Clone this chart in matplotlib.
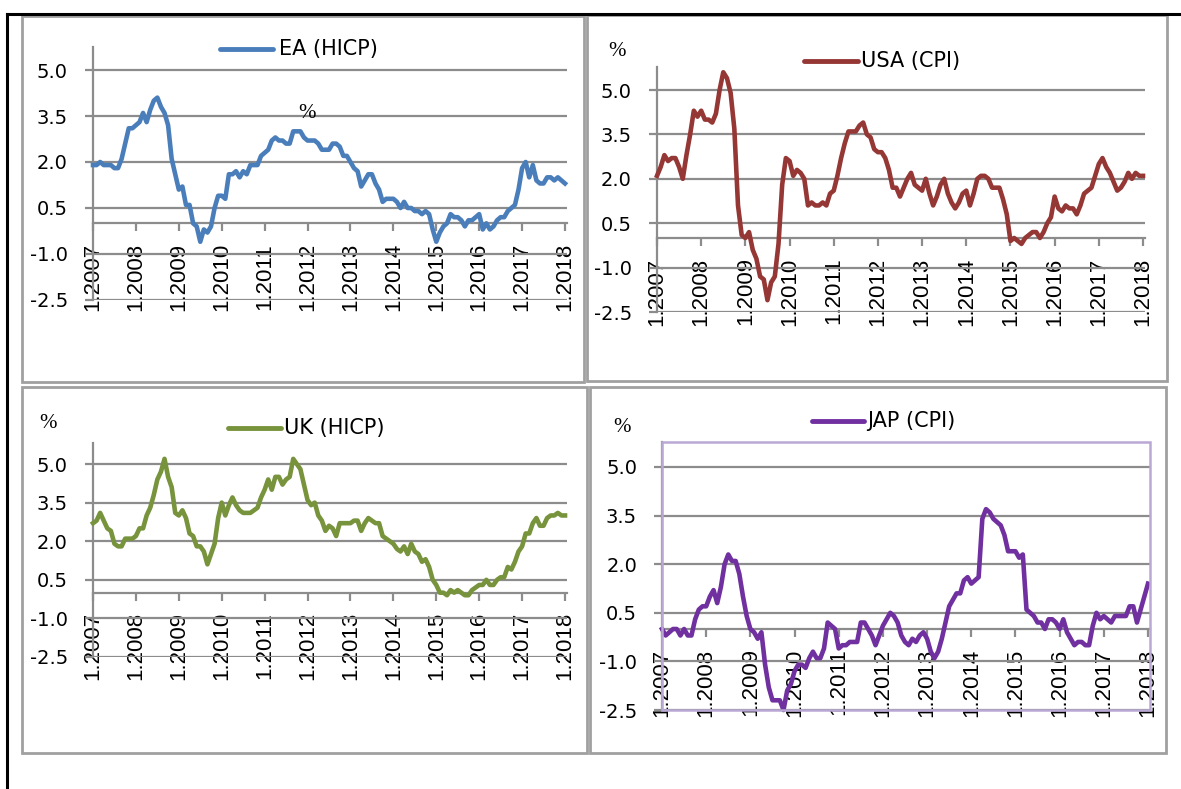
import matplotlib
matplotlib.use("Agg")
import matplotlib.pyplot as plt
from matplotlib.lines import Line2D
from matplotlib.patches import Rectangle

W, H = 1181, 789

tick_labels = ["1.2007", "1.2008", "1.2009", "1.2010", "1.2011", "1.2012",
               "1.2013", "1.2014", "1.2015", "1.2016", "1.2017", "1.2018"]
y_ticks = [-2.5, -1.0, 0.5, 2.0, 3.5, 5.0]

ea = [1.9, 1.9, 2.0, 1.9, 1.9, 1.9, 1.8, 1.8, 2.1, 2.6, 3.1, 3.1,
      3.2, 3.3, 3.6, 3.3, 3.7, 4.0, 4.1, 3.8, 3.6, 3.2, 2.1, 1.6,
      1.1, 1.2, 0.6, 0.6, 0.0, -0.1, -0.6, -0.2, -0.3, -0.1, 0.5, 0.9,
      0.9, 0.8, 1.6, 1.6, 1.7, 1.5, 1.7, 1.6, 1.9, 1.9, 1.9, 2.2,
      2.3, 2.4, 2.7, 2.8, 2.7, 2.7, 2.6, 2.6, 3.0, 3.0, 3.0, 2.8,
      2.7, 2.7, 2.7, 2.6, 2.4, 2.4, 2.4, 2.6, 2.6, 2.5, 2.2, 2.2,
      2.0, 1.8, 1.7, 1.2, 1.4, 1.6, 1.6, 1.3, 1.1, 0.7, 0.8, 0.8,
      0.8, 0.7, 0.5, 0.7, 0.5, 0.5, 0.4, 0.4, 0.3, 0.4, 0.3, -0.2,
      -0.6, -0.3, -0.1, 0.0, 0.3, 0.2, 0.2, 0.1, -0.1, 0.1, 0.1, 0.2,
      0.3, -0.2, 0.0, -0.2, -0.1, 0.1, 0.2, 0.2, 0.4, 0.5, 0.6, 1.1,
      1.8, 2.0, 1.5, 1.9, 1.4, 1.3, 1.3, 1.5, 1.5, 1.4, 1.5, 1.4,
      1.3]

usa = [2.1, 2.4, 2.8, 2.6, 2.7, 2.7, 2.4, 2.0, 2.8, 3.5, 4.3, 4.1,
       4.3, 4.0, 4.0, 3.9, 4.2, 5.0, 5.6, 5.4, 4.9, 3.7, 1.1, 0.1,
       0.0, 0.2, -0.4, -0.7, -1.3, -1.4, -2.1, -1.5, -1.3, -0.2, 1.8, 2.7,
       2.6, 2.1, 2.3, 2.2, 2.0, 1.1, 1.2, 1.1, 1.1, 1.2, 1.1, 1.5,
       1.6, 2.1, 2.7, 3.2, 3.6, 3.6, 3.6, 3.8, 3.9, 3.5, 3.4, 3.0,
       2.9, 2.9, 2.7, 2.3, 1.7, 1.7, 1.4, 1.7, 2.0, 2.2, 1.8, 1.7,
       1.6, 2.0, 1.5, 1.1, 1.4, 1.8, 2.0, 1.5, 1.2, 1.0, 1.2, 1.5,
       1.6, 1.1, 1.5, 2.0, 2.1, 2.1, 2.0, 1.7, 1.7, 1.7, 1.3, 0.8,
       -0.1, 0.0, -0.1, -0.2, 0.0, 0.1, 0.2, 0.2, 0.0, 0.2, 0.5, 0.7,
       1.4, 1.0, 0.9, 1.1, 1.0, 1.0, 0.8, 1.1, 1.5, 1.6, 1.7, 2.1,
       2.5, 2.7, 2.4, 2.2, 1.9, 1.6, 1.7, 1.9, 2.2, 2.0, 2.2, 2.1,
       2.1]

uk = [2.7, 2.8, 3.1, 2.8, 2.5, 2.4, 1.9, 1.8, 1.8, 2.1, 2.1, 2.1,
      2.2, 2.5, 2.5, 3.0, 3.3, 3.8, 4.4, 4.7, 5.2, 4.5, 4.1, 3.1,
      3.0, 3.2, 2.9, 2.3, 2.2, 1.8, 1.8, 1.6, 1.1, 1.5, 1.9, 2.9,
      3.5, 3.0, 3.4, 3.7, 3.4, 3.2, 3.1, 3.1, 3.1, 3.2, 3.3, 3.7,
      4.0, 4.4, 4.0, 4.5, 4.5, 4.2, 4.4, 4.5, 5.2, 5.0, 4.8, 4.2,
      3.6, 3.4, 3.5, 3.0, 2.8, 2.4, 2.6, 2.5, 2.2, 2.7, 2.7, 2.7,
      2.7, 2.8, 2.8, 2.4, 2.7, 2.9, 2.8, 2.7, 2.7, 2.2, 2.1, 2.0,
      1.9, 1.7, 1.6, 1.8, 1.5, 1.9, 1.6, 1.5, 1.2, 1.3, 1.0, 0.5,
      0.3, 0.0, 0.0, -0.1, 0.1, 0.0, 0.1, 0.0, -0.1, -0.1, 0.1, 0.2,
      0.3, 0.3, 0.5, 0.3, 0.3, 0.5, 0.6, 0.6, 1.0, 0.9, 1.2, 1.6,
      1.8, 2.3, 2.3, 2.7, 2.9, 2.6, 2.6, 2.9, 3.0, 3.0, 3.1, 3.0,
      3.0]

jap = [0.0, -0.2, -0.1, 0.0, 0.0, -0.2, 0.0, -0.2, -0.2, 0.3, 0.6, 0.7,
       0.7, 1.0, 1.2, 0.8, 1.3, 2.0, 2.3, 2.1, 2.1, 1.7, 1.0, 0.4,
       0.0, -0.1, -0.3, -0.1, -1.1, -1.8, -2.2, -2.2, -2.2, -2.5, -1.9, -1.7,
       -1.3, -1.1, -1.1, -1.2, -0.9, -0.7, -0.9, -0.9, -0.6, 0.2, 0.1, 0.0,
       -0.6, -0.5, -0.5, -0.4, -0.4, -0.4, 0.2, 0.2, 0.0, -0.2, -0.5, -0.2,
       0.1, 0.3, 0.5, 0.4, 0.2, -0.2, -0.4, -0.5, -0.3, -0.4, -0.2, -0.1,
       -0.3, -0.7, -0.9, -0.7, -0.3, 0.2, 0.7, 0.9, 1.1, 1.1, 1.5, 1.6,
       1.4, 1.5, 1.6, 3.4, 3.7, 3.6, 3.4, 3.3, 3.2, 2.9, 2.4, 2.4,
       2.4, 2.2, 2.3, 0.6, 0.5, 0.4, 0.2, 0.2, 0.0, 0.3, 0.3, 0.2,
       0.0, 0.3, -0.1, -0.3, -0.5, -0.4, -0.4, -0.5, -0.5, 0.1, 0.5, 0.3,
       0.4, 0.3, 0.2, 0.4, 0.4, 0.4, 0.4, 0.7, 0.7, 0.2, 0.6, 1.0,
       1.4]

series_names = ["EA (HICP)", "USA (CPI)", "UK (HICP)", "JAP (CPI)"]
colors = ["#4A7EBB", "#953735", "#77933C", "#7030A0"]

GRID = "#8C8C8C"
BORDER = "#A0A0A0"

fig = plt.figure(figsize=(W / 100, H / 100), dpi=100)


def fx(px):
    return px / W


def fy(py):
    return 1 - py / H


panels = [
    dict(data=ea, x0=93, xt=565, xg=567, ytop=47, y5=70, ym=300,
         border=(22, 16, 584, 382), leg=(220, 273, 49, 279),
         pct=(307, 113)),
    dict(data=usa, x0=657, xt=1143, xg=1145, ytop=67, y5=90, ym=312,
         border=(587, 15, 1167, 381), leg=(804, 858, 61, 861),
         pct=(617, 52)),
    dict(data=uk, x0=93, xt=565, xg=567, ytop=443, y5=464, ym=657,
         border=(22, 387, 587, 753), leg=(228, 281, 428, 284),
         pct=(48, 423)),
    dict(data=jap, x0=662, xt=1148, xg=1150, ytop=442, y5=467, ym=710,
         border=(590, 387, 1166, 753), leg=(812, 864, 421, 867),
         pct=(622, 427)),
]

fig.add_artist(Line2D([fx(7), fx(1181)], [fy(14), fy(14)], color="black", lw=2.2))
fig.add_artist(Line2D([fx(7), fx(7)], [fy(14), fy(789)], color="black", lw=2.2))

for i, p in enumerate(panels):
    bx0, by0, bx1, by1 = p["border"]
    fig.add_artist(Rectangle((fx(bx0), fy(by1)), fx(bx1) - fx(bx0), fy(by0) - fy(by1),
                             transform=fig.transFigure, fill=False,
                             edgecolor=BORDER, lw=2.0))

    unit = (p["ym"] - p["y5"]) / 7.5
    ytop_val = 5.0 + (p["y5"] - p["ytop"]) / unit
    ax = fig.add_axes([fx(p["x0"]), fy(p["ym"]), fx(p["xg"]) - fx(p["x0"]),
                       fy(p["ytop"]) - fy(p["ym"])])
    ax.patch.set_alpha(0)
    for s in ["top", "right"]:
        ax.spines[s].set_visible(False)
    ax.spines["bottom"].set_position(("data", 0))
    ax.spines["bottom"].set_color(GRID)
    ax.spines["bottom"].set_linewidth(1.6)
    ax.spines["left"].set_color(GRID)
    ax.spines["left"].set_linewidth(1.6)

    xmax = 132 * (p["xg"] - p["x0"]) / (p["xt"] - p["x0"])
    ax.set_xlim(0, xmax)
    ax.set_ylim(-2.5, ytop_val)

    ax.set_yticks(y_ticks)
    ax.set_yticklabels([f"{v:.1f}" for v in y_ticks], fontsize=14,
                       family="DejaVu Sans")
    ax.set_xticks(list(range(0, 133, 12)))
    ax.set_xticklabels(tick_labels, rotation=90, fontsize=16,
                       family="Liberation Sans", va="top", ha="center")

    ax.grid(axis="y", color=GRID, lw=1.6)
    ax.set_axisbelow(True)
    ax.tick_params(axis="y", direction="out", length=6, width=1.6, color=GRID, pad=12)
    ax.tick_params(axis="x", direction="out", length=6, width=1.6, color=GRID, pad=8)

    ax.plot(range(len(p["data"])), p["data"], color=colors[i], lw=3.3,
            solid_joinstyle="round", zorder=3, clip_on=False)

    if i == 3:
        fig.add_artist(Rectangle((fx(p["x0"]), fy(p["ym"])), fx(p["xg"]) - fx(p["x0"]),
                                 fy(p["ytop"]) - fy(p["ym"]),
                                 transform=fig.transFigure, fill=False,
                                 edgecolor="#B9A8D4", lw=1.8, zorder=1))

    lx0, lx1, ly, tx = p["leg"]
    fig.add_artist(Line2D([fx(lx0), fx(lx1)], [fy(ly), fy(ly)], color=colors[i],
                          lw=3.5, solid_capstyle="round"))
    fig.text(fx(tx), fy(ly), series_names[i], fontsize=15, family="DejaVu Sans",
             ha="left", va="center")
    px, py = p["pct"]
    fig.text(fx(px), fy(py), "%", fontsize=15, family="Liberation Serif",
             ha="center", va="center")

fig.savefig("out.png", dpi=100)
